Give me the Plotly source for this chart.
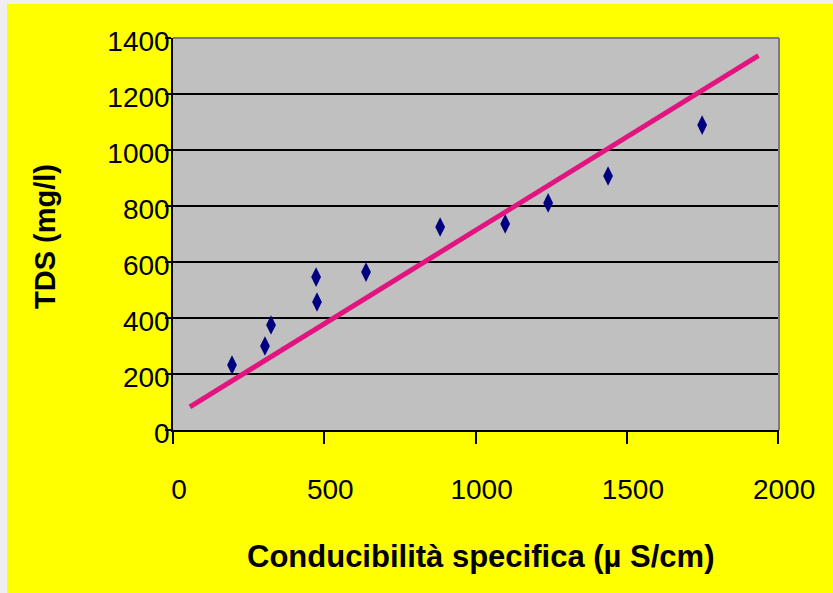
import plotly.graph_objects as go

# Data
conductivity = [195, 304, 324, 473, 476, 638, 883, 1098, 1240, 1438, 1749]
tds = [232, 300, 375, 546, 457, 564, 725, 736, 811, 907, 1089]
fit_x = [56, 1935]
fit_y = [83, 1337]
x_ticks = [0, 500, 1000, 1500, 2000]
y_ticks = [0, 200, 400, 600, 800, 1000, 1200, 1400]

W, H = 833, 593
L, R, T, B = 173, 54, 38, 163
pw, ph = W - L - R, H - T - B

def px_x(p):
    return (p - L) / pw

def px_y(p):
    return (H - B - p) / ph

fig = go.Figure()
fig.add_trace(go.Scatter(
    x=conductivity, y=tds, mode="markers",
    marker=dict(symbol="diamond-tall", size=14, color="#000080", line=dict(width=0)),
    showlegend=False, hoverinfo="skip"))
fig.add_trace(go.Scatter(
    x=fit_x, y=fit_y, mode="lines",
    line=dict(color="#E2147F", width=5),
    showlegend=False, hoverinfo="skip"))

font_family = "Liberation Sans, Arial, sans-serif"

fig.update_layout(
    width=W, height=H,
    margin=dict(l=L, r=R, t=T, b=B, pad=0),
    paper_bgcolor="#FFFF00",
    plot_bgcolor="#C0C0C0",
    font=dict(family=font_family, color="black"),
    xaxis=dict(
        range=[0, 2003], tickvals=x_ticks, ticktext=[str(v) for v in x_ticks],
        showgrid=False, zeroline=False,
        showline=True, linecolor="black", linewidth=1.5,
        ticks="outside", ticklen=12, tickwidth=1.5, tickcolor="black",
        tickfont=dict(size=28, family=font_family, color="black"),
        ticklabelstandoff=22, ticklabelshift=6,
        fixedrange=True,
    ),
    yaxis=dict(
        range=[0, 1400], tickvals=y_ticks, ticktext=[str(v) for v in y_ticks],
        showgrid=True, gridcolor="black", gridwidth=1.6, zeroline=False,
        showline=True, linecolor="black", linewidth=1.5,
        ticks="outside", ticklen=6, tickwidth=1.5, tickcolor="black",
        tickfont=dict(size=28, family=font_family, color="black"),
        ticklabelstandoff=-10, ticklabelshift=3,
        fixedrange=True,
    ),
    shapes=[
        # light strips at the left and top edges
        dict(type="rect", xref="paper", yref="paper",
             x0=px_x(0), x1=px_x(7), y0=px_y(H), y1=px_y(0),
             fillcolor="#EFEFEF", line=dict(width=0), layer="above"),
        dict(type="rect", xref="paper", yref="paper",
             x0=px_x(0), x1=px_x(W), y0=px_y(4), y1=px_y(0),
             fillcolor="#EFEFEF", line=dict(width=0), layer="above"),
        # gray top and right border of plot area
        dict(type="line", xref="paper", yref="paper", x0=0, x1=1, y0=1, y1=1,
             line=dict(color="#7A7A7A", width=2), layer="above"),
        dict(type="line", xref="paper", yref="paper", x0=1, x1=1, y0=0, y1=1,
             line=dict(color="#7A7A7A", width=2), layer="above"),
    ],
    annotations=[
        dict(text="<b>Conducibilità specifica (µ S/cm)</b>", xref="paper", yref="paper",
             x=px_x(480), y=px_y(556), xanchor="center", yanchor="middle",
             showarrow=False, font=dict(size=31, family=font_family, color="black")),
        dict(text="<b>TDS (mg/l)</b>", xref="paper", yref="paper",
             x=px_x(45), y=px_y(237), xanchor="center", yanchor="middle",
             textangle=-90, showarrow=False,
             font=dict(size=29, family=font_family, color="black")),
    ],
)

fig.write_html("out.html")
